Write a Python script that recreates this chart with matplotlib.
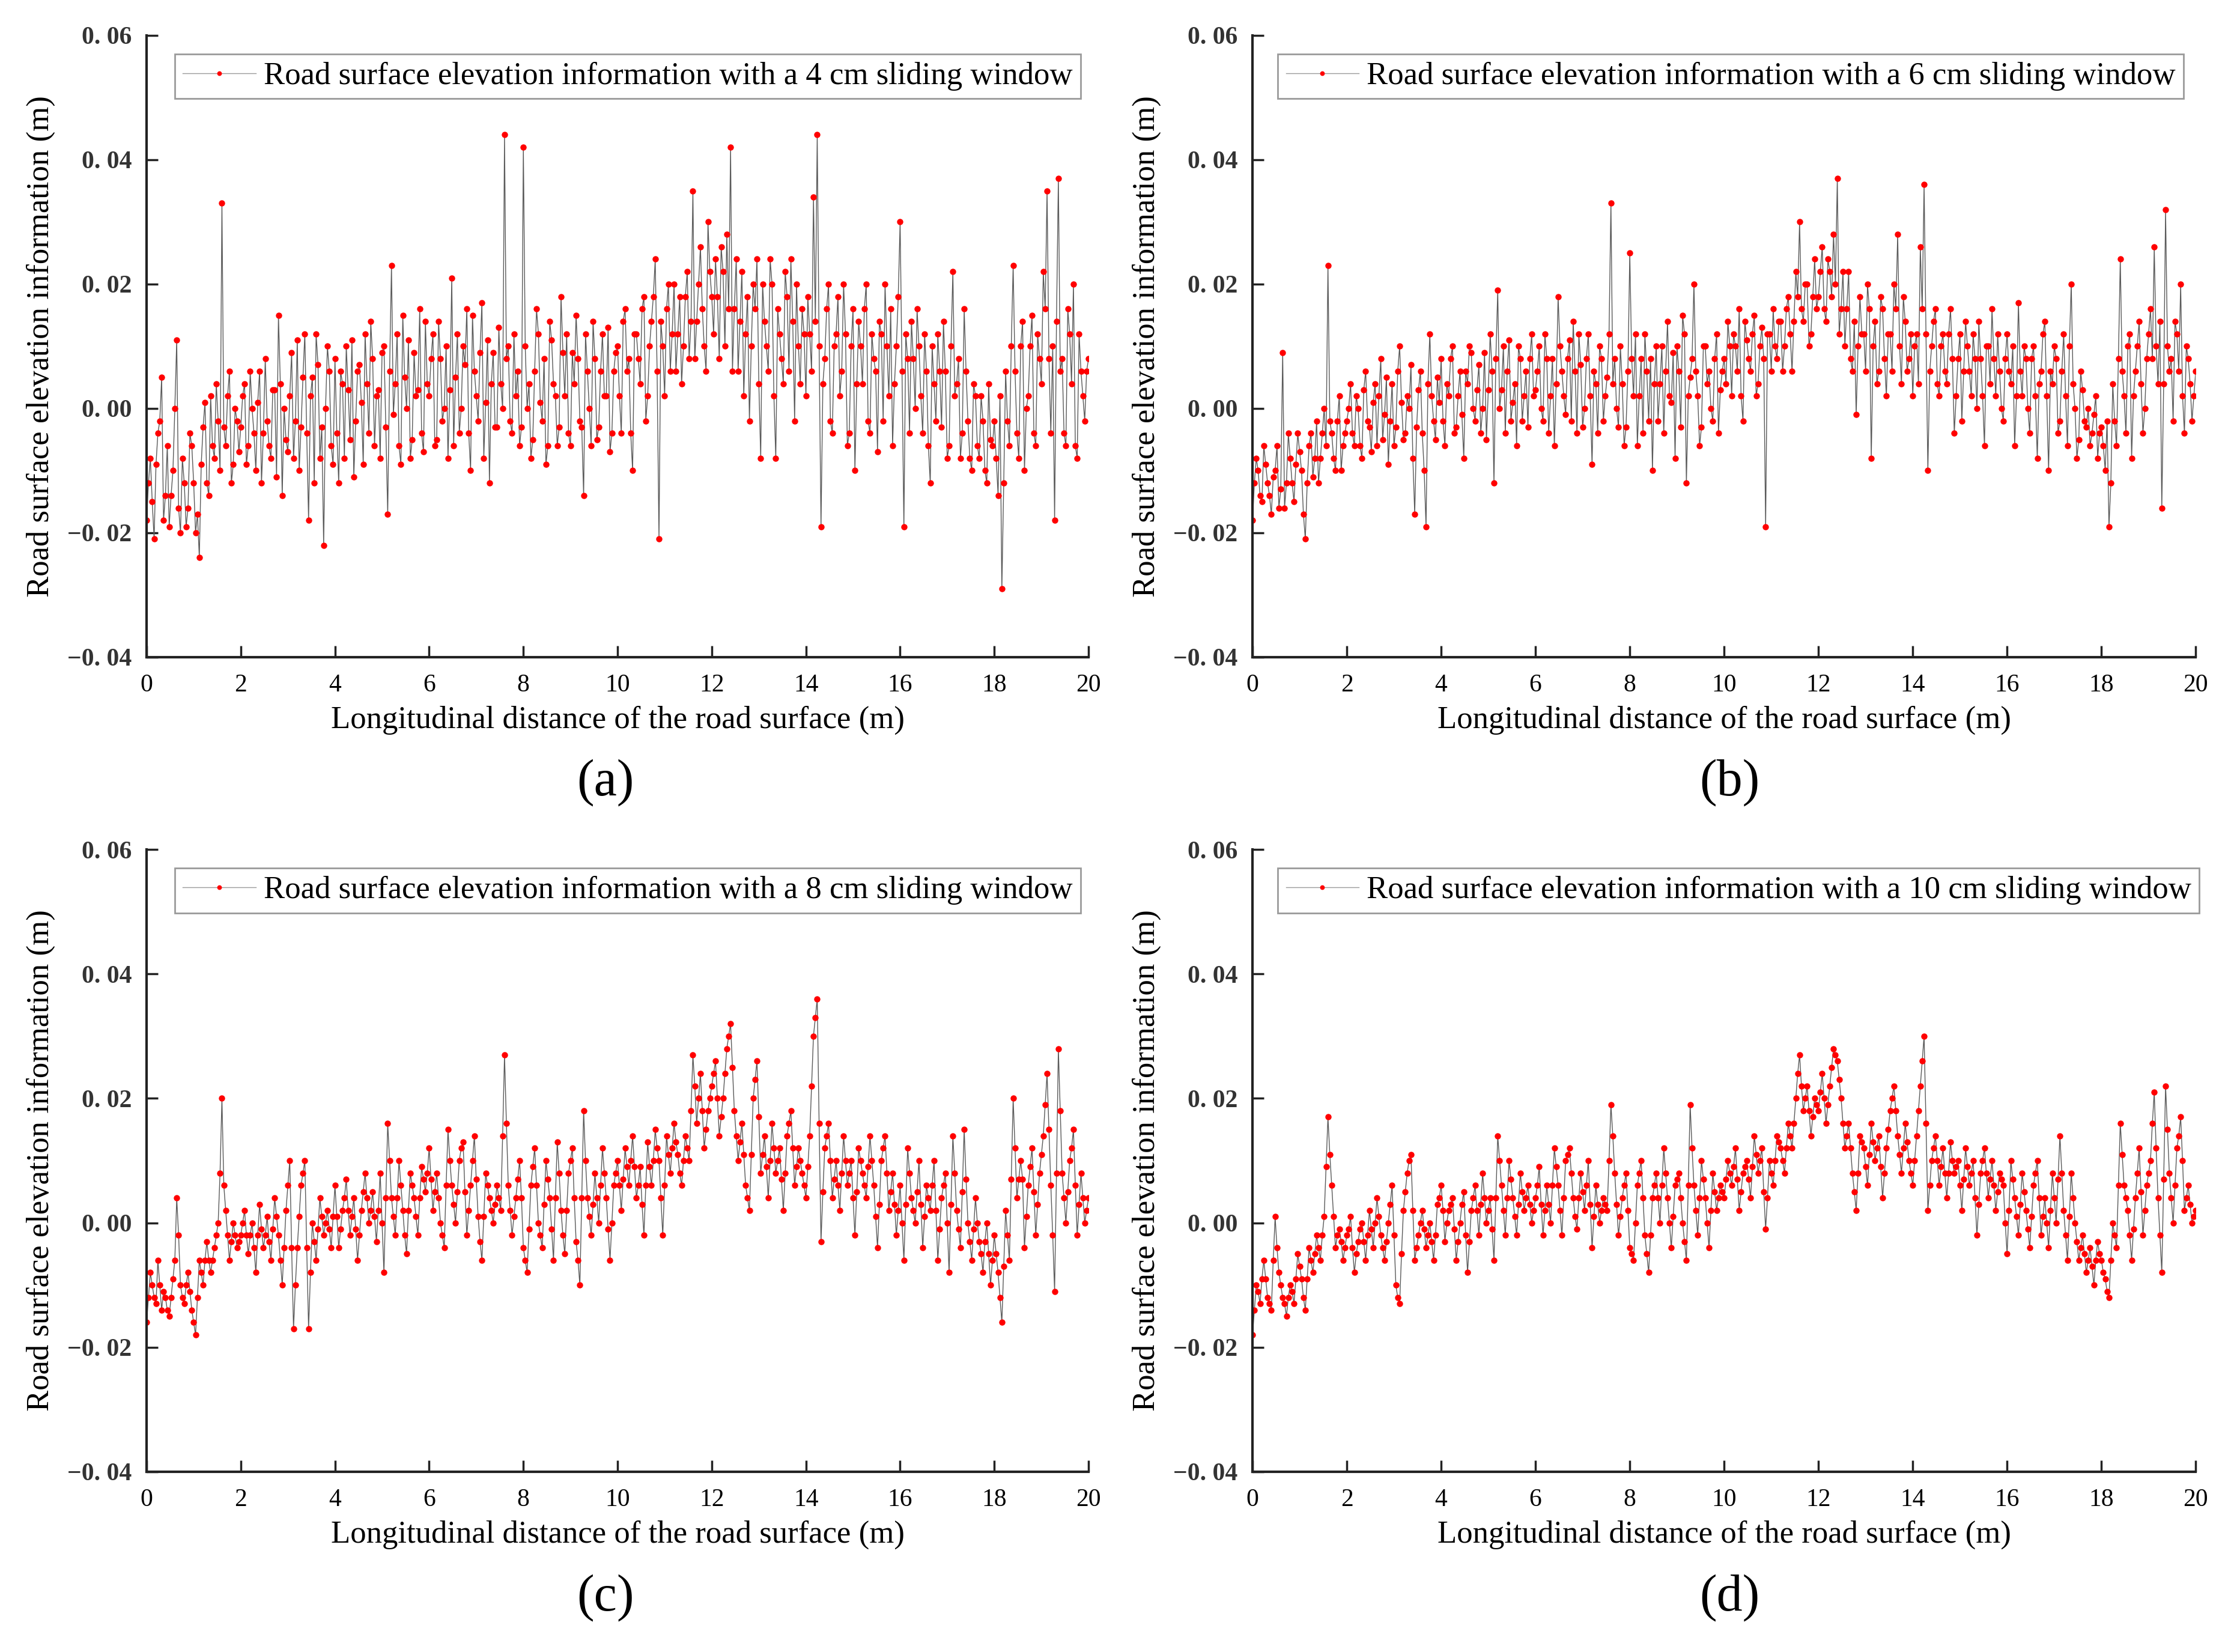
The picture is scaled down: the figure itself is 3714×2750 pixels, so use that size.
import numpy as np
import matplotlib
matplotlib.use('Agg')
import matplotlib.pyplot as plt

plt.rcParams['font.family'] = ['Liberation Serif', 'DejaVu Serif']

# road surface elevation (mm).
# *_main: samples at 0, 0.08, ..., 20 m ; *_mid: the samples lying between them (0.04, 0.12, ...)
elev_4cm_main = [
    -18, -8, -21, -4, 5, -14, -19, -10, 11, -20, -12, -16, -6, -20, -24, -3, -12, 2, -8, -2, 33, -6, 6, -9, -2,
    -3, 4, -6, 0, -10, 6, -4, -2, -8, 3, 15, -14, -5, 2, -8, 11, -3, 12, -18, 5, 12, -8, -22, 10, -6,
    8, -12, 4, 10, -5, -11, 6, 1, 12, -4, 8, 2, -8, 10, -17, 23, 4, -6, 15, 0, -8, 9, 3, -4, 14,
    2, 12, -5, 8, 0, -8, 21, 5, -4, 10, 16, -10, 6, -2, 17, 1, -12, 9, -3, 4, 44, 10, -4, 2, -6,
    42, 0, -8, 6, 12, -2, -9, 14, 4, -6, 18, 2, -4, 9, 15, -2, -14, 6, -6, 8, -3, 12, 2, -7, 6,
    10, -4, 16, 8, -10, 12, 4, 18, 2, 14, 24, -21, 10, 16, 6, 20, 12, 4, 18, 8, 35, 14, 26, 10, 30,
    18, 24, 8, 22, 28, 42, 16, 6, 22, 12, -2, 20, 24, -8, 14, 6, 20, -8, 12, 4, 18, 24, -2, 10, 16,
    2, 12, 34, 44, -19, 8, 20, -4, 12, 2, 20, -6, 10, -10, 14, 4, 20, -4, 8, -7, 12, 20, 2, -6, 10,
    30, -19, 8, 14, 0, 10, -4, 6, -12, 4, 12, -3, 6, -6, 22, 4, -8, 16, -2, -10, 2, -8, -2, -12, -5,
    -2, -14, -29, 6, -6, 23, -4, 10, -10, 2, 15, -6, 8, 22, 35, -4, -18, 37, 8, -6, 12, 20, -8, 6, -2, 8,
]
elev_4cm_mid = [
    -12, -15, -9, -2, -18, -6, -14, 0, -16, -8, -19, -4, -12, -17, -9, 1, -14, -6, 4, -10, -3, 2, -12, 0, -7,
    2, -9, 6, -4, 1, -12, 8, -6, 3, -11, 4, 0, -7, 9, -2, -10, 5, -4, 2, -12, 7, -3, 0, 6, -9,
    -4, 6, -8, 3, 11, -2, 7, -9, 4, 14, -6, 3, 9, -3, 6, -1, 12, -9, 5, 11, -5, 2, 16, -7, 4,
    8, -6, 14, -2, 10, 3, -6, 12, 0, 7, -4, 15, 2, 9, -8, 11, 4, -3, 13, 0, 8, -2, 12, 6, -3,
    10, 4, -5, 16, 1, 8, -6, 11, 2, -3, 9, 12, -6, 4, 8, -3, 12, 0, 14, -5, 6, 2, 13, -4, 9,
    2, 14, 6, -4, 12, 8, 16, -2, 10, 18, 6, 14, 2, 20, 12, 6, 18, 10, 22, 14, 8, 20, 16, 6, 22,
    12, 18, 26, 10, 16, 6, 24, 14, 2, 18, 10, 16, 4, 20, 10, 24, 2, 16, 8, 22, 6, 14, 20, 4, 12,
    18, 6, 14, 10, 4, 16, -2, 10, 18, 6, 12, -4, 16, 4, 10, 16, -2, 12, 6, 14, -2, 10, 16, 4, 18,
    6, 12, -4, 8, 16, 2, 12, -6, 10, -2, 6, 14, -8, 10, 2, 8, -4, 6, -8, 4, -6, 2, -10, 4, -6,
    -8, 2, -12, -2, 10, 6, -8, 14, 0, 10, -4, 12, 4, 16, 8, 10, 14, 6, -4, 16, 4, -6, 12, 2, 6,
]
elev_6cm_main = [
    -18, -8, -14, -6, -12, -17, -10, -16, 9, -12, -8, -15, -4, -10, -21, -6, -11, -2, -8, 0, 23, -4, -10, 2, -6,
    -2, 4, -6, 0, -8, 6, -3, 1, -6, 8, -1, -9, 4, -3, 10, -5, 2, 7, -17, 3, -4, -19, 12, -2, 5,
    8, -6, 2, 10, -3, 6, -8, 4, 9, -2, 7, 0, -5, 12, -12, 19, 3, -4, 11, 1, -6, 8, 2, -3, 12,
    3, 10, -2, 8, 2, -6, 18, 6, -1, 11, 14, -4, 7, 0, 12, -9, 4, 10, -2, 5, 33, 8, -3, 4, -3,
    25, 2, -6, 8, 12, -2, -10, 10, 4, -4, 14, 1, -8, 6, 15, -12, 5, 20, 2, -3, 10, 6, -2, 12, 3,
    8, 14, 2, 10, 16, -2, 11, 6, 15, 4, 13, -19, 12, 16, 8, 14, 10, 18, 6, 22, 30, 14, 20, 12, 24,
    18, 26, 14, 22, 28, 37, 16, 10, 22, 6, -1, 18, 12, 20, -8, 14, 6, 16, 2, 12, 20, 28, 4, 14, 8,
    2, 12, 26, 36, -10, 10, 16, 2, 12, 4, 16, -4, 8, -2, 14, 6, 12, 0, 8, -6, 10, 16, 2, 6, -2,
    12, 4, -6, 17, 2, 8, -4, 10, -8, 6, 14, -10, 4, 8, -2, 12, -6, 20, 0, -5, 3, -3, -6, -1, -8,
    -3, -10, -19, 4, -6, 24, 2, 10, -8, 6, 14, -4, 8, 16, 26, 4, -16, 32, 6, -2, 12, 20, -4, 8, -2, 6,
]
elev_6cm_mid = [
    -12, -10, -15, -9, -14, -11, -6, -13, -16, -4, -12, -9, -7, -17, -12, -4, -8, -12, -4, -6, -2, -8, -2, -10, -4,
    0, -4, 2, -6, 3, -2, -7, 4, 2, -5, 5, -2, -6, 6, 1, -4, 0, -8, -3, 6, -10, 4, 2, -5, 1,
    -2, 4, 8, -4, 2, -1, 6, 10, 0, 3, -4, 9, 3, 6, 8, 0, 10, 6, -2, 4, 10, -2, 6, 8, 2,
    6, 0, 12, -4, 8, 4, 10, 2, 8, -2, 6, 12, -3, 8, 2, 6, -4, 8, 2, 12, 4, 0, 10, -6, 6,
    8, 12, 2, -4, 6, 8, 4, -2, 10, 6, 2, 9, 10, -3, 12, 2, 8, 6, -6, 10, 4, 0, 8, -4, 6,
    4, 10, 12, 6, 2, 14, 8, 12, 2, 10, 8, 12, 6, 10, 14, 6, 16, 12, 14, 18, 16, 20, 10, 18, 16,
    22, 16, 24, 18, 20, 12, 22, 16, 8, 14, 10, 12, 6, 16, 10, 4, 18, 8, 12, 6, 16, 10, 18, 6, 12,
    10, 4, 16, 12, 6, 14, 4, 10, 6, 12, 8, 2, 12, 6, 10, 2, 8, 14, 2, 10, 4, 8, 12, 0, 8,
    6, 10, 2, 6, 10, 0, 8, 2, 4, 12, 2, 6, 10, -4, 6, 2, 10, 4, -8, 6, -2, 0, -4, 2, -4,
    -6, -2, -12, -2, 8, 6, -4, 12, 2, 10, 4, 0, 12, 8, 10, 14, 4, 10, 8, 14, 6, 2, 10, 4, 2,
]
elev_8cm_main = [
    -16, -8, -12, -6, -14, -12, -15, -9, 4, -10, -13, -8, -14, -18, -6, -10, -3, -8, -4, 0, 20, 2, -6, 0, -4,
    -2, 2, -5, 0, -8, 3, -4, 1, -6, 4, -2, -10, 2, 10, -17, -4, 6, 10, -17, 0, -6, 4, -2, 2, -4,
    6, -4, 2, 7, -2, 4, -6, 2, 8, 0, 5, -3, 8, -8, 16, 4, -2, 10, 2, -5, 8, 4, -2, 9, 5,
    12, 2, 8, 0, -4, 15, 6, 0, 10, 13, -2, 6, 14, 1, -6, 8, 4, 0, 6, 2, 27, 6, -2, 4, 10,
    -4, -8, 6, 12, 0, -4, 10, 4, -6, 13, 2, -5, 8, 12, -3, -10, 18, 4, -2, 8, 0, 12, 4, -6, 6,
    10, 2, 12, 6, 14, 4, 9, -2, 13, 6, 15, 10, -2, 14, 8, 16, 11, 6, 14, 10, 27, 16, 24, 12, 18,
    22, 26, 14, 20, 28, 32, 18, 10, 16, 6, 2, 20, 26, 8, 14, 4, 16, 8, 12, 2, 14, 18, 6, 12, 8,
    4, 14, 30, 36, -3, 12, 16, 4, 10, 2, 14, 6, 10, -2, 12, 8, 4, 14, 6, -4, 10, 14, 2, 8, -2,
    6, -6, 12, 4, 0, 10, -4, 6, 2, 10, -6, 4, 8, -8, 14, 2, -4, 15, 0, -6, 4, -3, -8, 0, -10,
    -2, -8, -16, 2, -6, 20, 4, 10, -4, 6, 12, -2, 8, 14, 24, 6, -11, 28, 8, 0, 10, 15, -2, 8, 0, 4,
]
elev_8cm_mid = [
    -12, -10, -13, -10, -11, -14, -12, -6, -2, -12, -10, -11, -16, -12, -8, -6, -6, -6, -2, 8, 6, -2, -3, -2, -3,
    0, -2, -2, -4, -2, -1, -2, -3, -1, 1, -6, -4, 6, -4, -10, 1, 8, -4, -8, -3, -1, 1, 0, -1, 1,
    1, -1, 4, 2, 1, -1, -2, 5, 4, 2, 1, 2, 0, 4, 10, 1, 4, 6, -2, 2, 6, 1, 4, 7, 8,
    7, 5, 4, -2, 6, 10, 3, 5, 12, 5, 2, 10, 7, -3, 1, 6, 2, 3, 4, 14, 16, 2, 1, 7, 4,
    -6, -1, 9, 6, -2, 3, 7, -1, 4, 8, -2, 2, 10, 4, -6, 4, 10, 1, 3, 4, 6, 8, -1, 0, 8,
    6, 7, 9, 10, 9, 6, 3, 6, 9, 10, 12, 4, 6, 11, 12, 13, 8, 10, 12, 18, 22, 20, 18, 15, 20,
    24, 20, 17, 24, 30, 25, 14, 13, 11, 4, 11, 23, 17, 11, 9, 10, 12, 10, 7, 8, 16, 12, 9, 10, 6,
    9, 22, 33, 16, 5, 14, 10, 7, 6, 8, 10, 8, 4, 5, 10, 6, 9, 10, 1, 3, 12, 8, 5, 3, 2,
    0, 3, 8, 2, 5, 3, 1, 4, 6, 2, -1, 6, 0, 3, 8, -1, 5, 7, -3, -1, 0, -5, -3, -5, -6,
    -5, -12, -7, -2, 7, 12, 7, 7, 1, 9, 5, 3, 11, 19, 15, -2, 8, 18, 4, 5, 12, 6, 3, 4, 2,
]
elev_10cm_main = [
    -18, -10, -13, -6, -12, -14, 1, -8, -12, -15, -10, -13, -5, -9, -14, -4, -8, -2, -6, 1, 17, 6, -4, -1, -6,
    -2, 1, -8, -3, 0, -6, 2, -4, 4, -2, -6, 0, 6, -10, -13, 2, 8, 11, -6, -2, 2, -4, 0, -6, 3,
    6, -3, 2, 4, -6, 0, 5, -8, 2, 6, -2, 8, 0, 4, -6, 14, 6, -2, 10, 4, -2, 8, 2, 6, 0,
    4, 9, -2, 6, 0, 12, 6, -2, 10, 12, 4, -1, 8, 2, 10, -4, 6, 0, 4, 2, 19, 8, -2, 4, 8,
    -4, -6, 6, 10, -2, -8, 4, 8, 0, 12, 4, -4, 6, 8, 0, -6, 19, 6, -2, 10, 4, -4, 8, 2, 6,
    4, 10, 6, 12, 2, 8, 10, 4, 14, 8, 12, -1, 10, 6, 14, 12, 8, 16, 12, 20, 27, 18, 22, 14, 20,
    18, 24, 16, 22, 28, 26, 20, 12, 16, 8, 2, 14, 12, 6, 16, 10, 14, 4, 12, 18, 22, 14, 8, 16, 10,
    6, 14, 22, 30, 2, 10, 14, 6, 12, 4, 13, 8, 10, 2, 12, 6, 10, -2, 8, 12, 4, 10, 2, 8, 6,
    -5, 10, 4, -2, 8, 2, -4, 6, 10, -2, 4, -4, 8, 0, 14, 2, -6, 8, 0, -6, -2, -8, -4, -10, -3,
    -6, -9, -12, 0, -4, 16, 6, 2, -6, 4, 12, -2, 6, 10, 21, 4, -8, 22, 8, 0, 12, 17, 2, 6, 0, 2,
]
elev_10cm_mid = [
    -14, -11, -9, -9, -13, -6, -4, -10, -13, -12, -11, -9, -7, -12, -9, -6, -5, -4, -2, 9, 11, 1, -2, -3, -4,
    -1, -4, -5, -1, -3, -2, -1, 0, 1, -4, -3, 3, -2, -12, -5, 5, 10, 2, -4, 0, -1, -2, -3, -2, 4,
    2, 0, 3, -1, -3, 3, -2, -3, 4, 2, 3, 4, 2, -1, 4, 10, 2, 4, 7, 1, 3, 5, 4, 3, 2,
    6, 3, 2, 3, 6, 9, 2, 4, 11, 8, 1, 4, 5, 6, 3, 1, 3, 2, 3, 10, 14, 3, 1, 6, 2,
    -5, 0, 8, 4, -5, -2, 6, 4, 6, 8, 0, 1, 7, 4, -3, 6, 12, 2, 4, 7, 0, 2, 5, 4, 5,
    7, 8, 9, 7, 5, 9, 7, 9, 11, 10, 5, 4, 8, 10, 13, 10, 12, 14, 16, 24, 22, 20, 18, 17, 19,
    21, 20, 19, 25, 27, 23, 16, 14, 12, 5, 8, 13, 9, 11, 13, 12, 9, 8, 15, 20, 18, 11, 12, 13, 8,
    10, 18, 26, 16, 6, 12, 10, 9, 8, 8, 10, 9, 6, 7, 9, 8, 4, 3, 10, 8, 7, 6, 5, 7, 0,
    2, 7, 1, 3, 5, -1, 1, 8, 4, 1, 0, 2, 4, 7, 8, -2, 1, 4, -3, -4, -5, -6, -7, -6, -5,
    -8, -11, -6, -2, 6, 11, 4, -2, -1, 8, 5, 2, 8, 16, 12, -2, 7, 15, 4, 6, 14, 10, 4, 3, 1,
]

mains = [elev_4cm_main, elev_6cm_main, elev_8cm_main, elev_10cm_main]
mids = [elev_4cm_mid, elev_6cm_mid, elev_8cm_mid, elev_10cm_mid]
windows = ['4', '6', '8', '10']
panel_tags = ['(a)', '(b)', '(c)', '(d)']
x_ticks = [0, 2, 4, 6, 8, 10, 12, 14, 16, 18, 20]
y_ticks = [-0.04, -0.02, 0.0, 0.02, 0.04, 0.06]
y_tick_labels = ['\u22120. 04', '\u22120. 02', '0. 00', '0. 02', '0. 04', '0. 06']

fig = plt.figure(figsize=(37.14, 27.5), dpi=100)

boxes = [
    (0.0657, 0.6022, 0.4222, 0.3764),
    (0.5614, 0.6022, 0.4228, 0.3764),
    (0.0657, 0.1091, 0.4222, 0.3767),
    (0.5614, 0.1091, 0.4228, 0.3767),
]
tag_x = [0.487, 0.506, 0.487, 0.506]
leg_x = [0.030, 0.027, 0.030, 0.027]

for i in range(4):
    ax = fig.add_axes(boxes[i])
    main = np.array(mains[i], dtype=float)
    mid = np.array(mids[i], dtype=float)
    y = np.empty(len(main) + len(mid))
    y[0::2] = main
    y[1::2] = mid
    y = y / 1000.0
    x = np.linspace(0, 20, len(y))
    ax.plot(x, y, color='#5a5a5a', lw=1.0, marker='o', ms=7.5,
            mfc='red', mec='red', mew=0,
            label='Road surface elevation information with a %s cm sliding window' % windows[i])

    ax.set_xlim(0, 20)
    ax.set_ylim(-0.04, 0.06)
    ax.set_xticks(x_ticks)
    ax.set_yticks(y_ticks)
    ax.set_yticklabels(y_tick_labels, fontweight='bold', color='#333333')

    for s in ['top', 'right']:
        ax.spines[s].set_visible(False)
    for s in ['left', 'bottom']:
        ax.spines[s].set_linewidth(3)
        ax.spines[s].set_color('#222222')

    ax.tick_params(direction='in', length=14, width=2.5, color='#222222')
    ax.tick_params(axis='x', labelsize=30, pad=20)
    ax.tick_params(axis='y', labelsize=30, pad=18)

    ax.set_xlabel('Longitudinal distance of the road surface (m)', fontsize=38)
    ax.xaxis.set_label_coords(0.5, -0.078)
    ax.set_ylabel('Road surface elevation information (m)', fontsize=38)
    ax.yaxis.set_label_coords(-0.097, 0.5)

    leg = ax.legend(loc='upper left', bbox_to_anchor=(leg_x[i], 0.970), fontsize=38,
                    frameon=True, fancybox=False, edgecolor='#9a9a9a', framealpha=1,
                    borderpad=0.25, handlelength=2.3, handletextpad=0.25,
                    borderaxespad=0, numpoints=1, markerscale=0.75)
    leg.get_frame().set_linewidth(2)
    leg.get_lines()[0].set_color('#9a9a9a')

    ax.text(tag_x[i], -0.202, panel_tags[i], transform=ax.transAxes,
            ha='center', va='center', fontsize=62)

fig.savefig('out.png', dpi=100)
